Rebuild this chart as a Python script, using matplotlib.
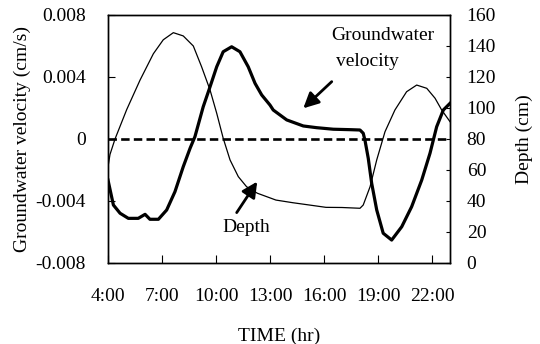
import numpy as np
import matplotlib.pyplot as plt

plt.rcParams['font.family'] = ['Liberation Serif', 'DejaVu Serif']
plt.rcParams['font.size'] = 14

# groundwater velocity (cm/s)
vel_hr = [4.0, 4.3, 4.67, 5.13, 5.68, 6.06, 6.33, 6.8, 7.26, 7.72, 8.18, 8.56, 8.83,
          9.29, 9.67, 10.04, 10.4, 10.87, 11.33, 11.79, 12.17, 12.54, 13.0, 13.18,
          13.93, 14.85, 15.59, 16.52, 17.5, 18.0, 18.18, 18.28, 18.46, 18.65, 18.93,
          19.29, 19.76, 20.32, 20.87, 21.43, 21.89, 22.26, 22.63, 23.0]
velocity = [-0.00265, -0.00426, -0.00479, -0.00512, -0.00512, -0.00486, -0.00518,
            -0.00518, -0.00458, -0.0034, -0.00179, -0.0006, 0.00015, 0.00208, 0.00337,
            0.00466, 0.00563, 0.00595, 0.00563, 0.00466, 0.00359, 0.00284, 0.00219,
            0.00187, 0.00123, 0.00084, 0.00073, 0.00063, 0.0006, 0.00058, 0.00037,
            -0.0001, -0.00125, -0.00286, -0.00458, -0.00608, -0.00652, -0.00566,
            -0.00437, -0.00265, -0.00092, 0.00079, 0.00187, 0.0023]

# water depth (cm)
dep_hr = [4.0, 4.11, 4.39, 5.04, 5.78, 6.52, 7.07, 7.63, 8.18, 8.74, 9.2, 9.67, 10.04,
          10.4, 10.78, 11.24, 11.7, 12.3, 13.33, 14.26, 15.19, 16.11, 17.0, 18.0, 18.18,
          18.56, 18.93, 19.39, 19.94, 20.59, 21.15, 21.71, 22.17, 22.54, 23.0]
depth = [62, 70, 80, 99, 118, 135, 144, 148.6, 146.5, 140, 126.6, 111.6, 96.6, 80.5,
         66.5, 55.7, 49.2, 45, 40.6, 38.9, 37.4, 35.9, 35.8, 35.3, 37.4, 49.2, 66.5,
         84.7, 98.7, 110.5, 114.8, 112.7, 106.3, 98.7, 91.2]

xticks = [4, 7, 10, 13, 16, 19, 22]
xtick_labels = ['4:00', '7:00', '10:00', '13:00', '16:00', '19:00', '22:00']

fig = plt.figure(figsize=(5.4, 3.44), dpi=100)
ax = fig.add_axes([0.2, 0.2355, 0.6333, 0.7209])
ax2 = ax.twinx()

ax.plot(vel_hr, velocity, color='black', linewidth=2.3, zorder=3)
ax.axhline(0, color='black', linewidth=1.9, linestyle=(0, (3.2, 1.6)))
ax2.plot(dep_hr, depth, color='black', linewidth=0.9)

ax.set_xlim(4, 23)
ax.set_ylim(-0.008, 0.008)
ax2.set_ylim(0, 160)
ax.set_xticks(xticks)
ax.set_xticklabels(xtick_labels)
ax.set_yticks([-0.008, -0.004, 0, 0.004, 0.008])
ax.set_yticklabels(['-0.008', '-0.004', '0', '0.004', '0.008'])
ax2.set_yticks(np.arange(0, 161, 20))

ax.tick_params(axis='x', direction='in', length=6, pad=18)
ax.tick_params(axis='y', direction='in', length=5, pad=16)
ax2.tick_params(axis='y', direction='in', length=3, pad=12)
for a in (ax, ax2):
    for s in a.spines.values():
        s.set_linewidth(1.0)

ax.set_xlabel('TIME (hr)', labelpad=16)
ax.set_ylabel('Groundwater velocity (cm/s)', labelpad=3)
ax2.set_ylabel('Depth (cm)', labelpad=14)

arrow = dict(arrowstyle='-|>', color='black', lw=2.0, mutation_scale=23,
             shrinkA=0, shrinkB=0)
ax.annotate('', xy=(14.85, 0.00198), xytext=(16.43, 0.0037), arrowprops=arrow)
ax.annotate('', xy=(12.29, -0.00275), xytext=(11.15, -0.00475), arrowprops=arrow)
ax.text(19.28, 0.0067, 'Groundwater', ha='center', va='center')
ax.text(18.39, 0.00497, 'velocity', ha='center', va='center')
ax.text(11.7, -0.00568, 'Depth', ha='center', va='center')

plt.savefig('out.png', dpi=100)
plt.close()
